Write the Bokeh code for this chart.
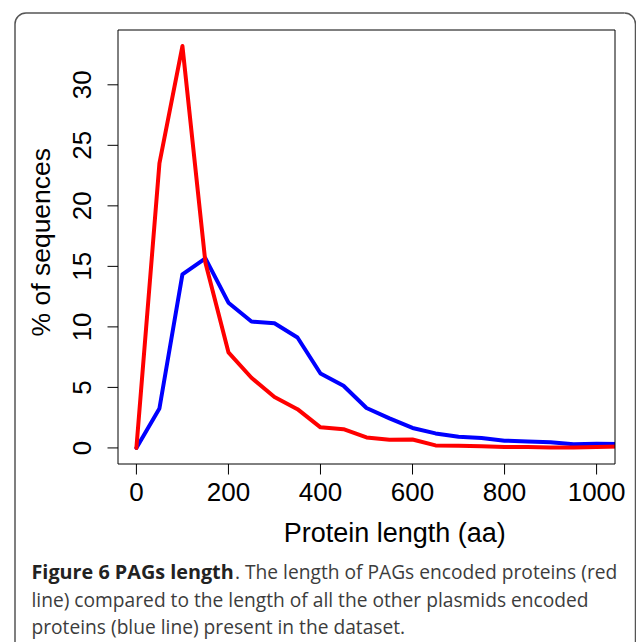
import math
from bokeh.plotting import figure
from bokeh.models import Range1d
from bokeh.core.properties import value
from bokeh.embed import file_html
from bokeh.resources import INLINE

# ---- data ----
lengths = [0, 50, 100, 150, 200, 250, 300, 350, 400, 450, 500,
           550, 600, 650, 700, 750, 800, 850, 900, 950, 1000, 1050]
pags_pct = [0, 23.5, 33.2, 15.3, 7.9, 5.8, 4.2, 3.2, 1.7, 1.55, 0.87,
            0.68, 0.70, 0.21, 0.17, 0.14, 0.07, 0.07, 0.04, 0.04, 0.07, 0.12]
other_pct = [0, 3.26, 14.34, 15.66, 12.0, 10.44, 10.3, 9.12, 6.15, 5.14, 3.30,
             2.44, 1.65, 1.20, 0.93, 0.82, 0.60, 0.54, 0.46, 0.30, 0.35, 0.33]
x_ticks = [0, 200, 400, 600, 800, 1000]
y_ticks = [0, 5, 10, 15, 20, 25, 30]
x_title = "Protein length (aa)"
y_title = "% of sequences"
caption_bold = "Figure 6 PAGs length"
caption_rest = ". The length of PAGs encoded proteins (red"
caption_lines = [
    "line) compared to the length of all the other plasmids encoded",
    "proteins (blue line) present in the dataset.",
]

# ---- layout (pixels) ----
W, H = 636, 642
PL, PR, PT, PB = 117.5, 614.5, 29.5, 463.5      # inner plot box
xlim = (0, 1000)
ymax = max(max(pags_pct), max(other_pct))
ylim = (0, ymax)
# R style 4% axis expansion
x0 = xlim[0] - 0.04 * (xlim[1] - xlim[0])
x1 = xlim[1] + 0.04 * (xlim[1] - xlim[0])
y0 = ylim[0] - 0.04 * (ylim[1] - ylim[0])
y1 = ylim[1] + 0.04 * (ylim[1] - ylim[0])
sx = (PR - PL) / (x1 - x0)
sy = (PB - PT) / (y1 - y0)
xs = x0 - PL / sx
ys = y0 - (H - PB) / sy


def X(px):
    return xs + px / sx


def Y(py):
    return ys + (H - py) / sy


p = figure(width=W, height=H, x_range=Range1d(xs, xs + W / sx),
           y_range=Range1d(ys, ys + H / sy),
           output_backend="svg", toolbar_location=None,
           x_axis_type=None, y_axis_type=None,
           min_border=0)
p.min_border_left = p.min_border_right = p.min_border_top = p.min_border_bottom = 0
p.outline_line_color = None
p.grid.visible = False
p.background_fill_color = "white"
p.border_fill_color = "white"

# ---- rounded outer box (figure + caption) ----
BOX_L, BOX_T, BOX_R, BOX_B, RAD = 14.5, 12.5, 635, 700, 11
BOX_C = "#555555"
p.segment(x0=[X(BOX_L), X(BOX_L + RAD), X(BOX_R)],
          y0=[Y(BOX_T + RAD), Y(BOX_T), Y(BOX_T + RAD)],
          x1=[X(BOX_L), X(BOX_R - RAD), X(BOX_R)],
          y1=[Y(BOX_B), Y(BOX_T), Y(BOX_B)],
          line_color=BOX_C, line_width=1.5)
p.arc(x=[X(BOX_L + RAD), X(BOX_R - RAD)], y=[Y(BOX_T + RAD), Y(BOX_T + RAD)],
      radius=RAD, radius_units="screen",
      start_angle=[math.pi / 2, 0], end_angle=[math.pi, math.pi / 2],
      line_color=BOX_C, line_width=1.5)

# ---- series ----
p.line(lengths, other_pct, line_color="#0000FF", line_width=4,
       line_join="round", line_cap="round")
p.line(lengths, pags_pct, line_color="#FF0000", line_width=4,
       line_join="round", line_cap="round")
# keep the lines inside the plot box (R clips at the plot region)
p.quad(left=[x1], right=[X(PR + 15)], bottom=[y0], top=[y1],
       fill_color="white", line_color=None)

# ---- plot box ----
p.quad(left=[x0], right=[x1], bottom=[y0], top=[y1],
       fill_color=None, line_color="black", line_width=1)

# ---- axes: ticks and labels ----
TICK = 10.5
p.segment(x0=x_ticks, y0=[y0] * len(x_ticks), x1=x_ticks,
          y1=[Y(PB + TICK)] * len(x_ticks), line_color="black", line_width=1)
p.segment(x0=[x0] * len(y_ticks), y0=y_ticks, x1=[X(PL - TICK)] * len(y_ticks),
          y1=y_ticks, line_color="black", line_width=1)

AX_FONT = value("Liberation Sans")
p.text(x=x_ticks, y=[Y(491.5)] * len(x_ticks), text=[str(t) for t in x_ticks],
       text_font=AX_FONT, text_font_size="26px", text_color="black",
       text_align="center", text_baseline="alphabetic")
p.text(x=[X(81.3)] * len(y_ticks), y=y_ticks, text=[str(t) for t in y_ticks],
       angle=math.pi / 2, text_font=AX_FONT, text_font_size="26px",
       text_color="black", text_align="center", text_baseline="alphabetic")

p.text(x=[X(394.2)], y=[Y(532)], text=[x_title],
       text_font=AX_FONT, text_font_size="27px", text_color="black",
       text_align="center", text_baseline="alphabetic")
p.text(x=[X(40.5)], y=[Y(241.7)], text=[y_title], angle=math.pi / 2,
       text_font=AX_FONT, text_font_size="26.5px", text_color="black",
       text_align="center", text_baseline="alphabetic")

# ---- caption ----
CAP_FONT = value("Open Sans")
CAP_X = 31
p.text(x=[X(CAP_X)], y=[Y(571.3)], text=[caption_bold],
       text_font=CAP_FONT, text_font_size="19.8px", text_font_style="bold",
       text_color="#222222", text_align="left", text_baseline="alphabetic")
p.text(x=[X(234.5)], y=[Y(571.3)], text=[caption_rest],
       text_font=CAP_FONT, text_font_size="19.2px",
       text_color="#3c3c3c", text_align="left", text_baseline="alphabetic")
p.text(x=[X(CAP_X)] * 2, y=[Y(598.8), Y(626.3)], text=caption_lines,
       text_font=CAP_FONT, text_font_size="19.2px",
       text_color="#3c3c3c", text_align="left", text_baseline="alphabetic")

open("out.html", "w").write(file_html(p, INLINE))
